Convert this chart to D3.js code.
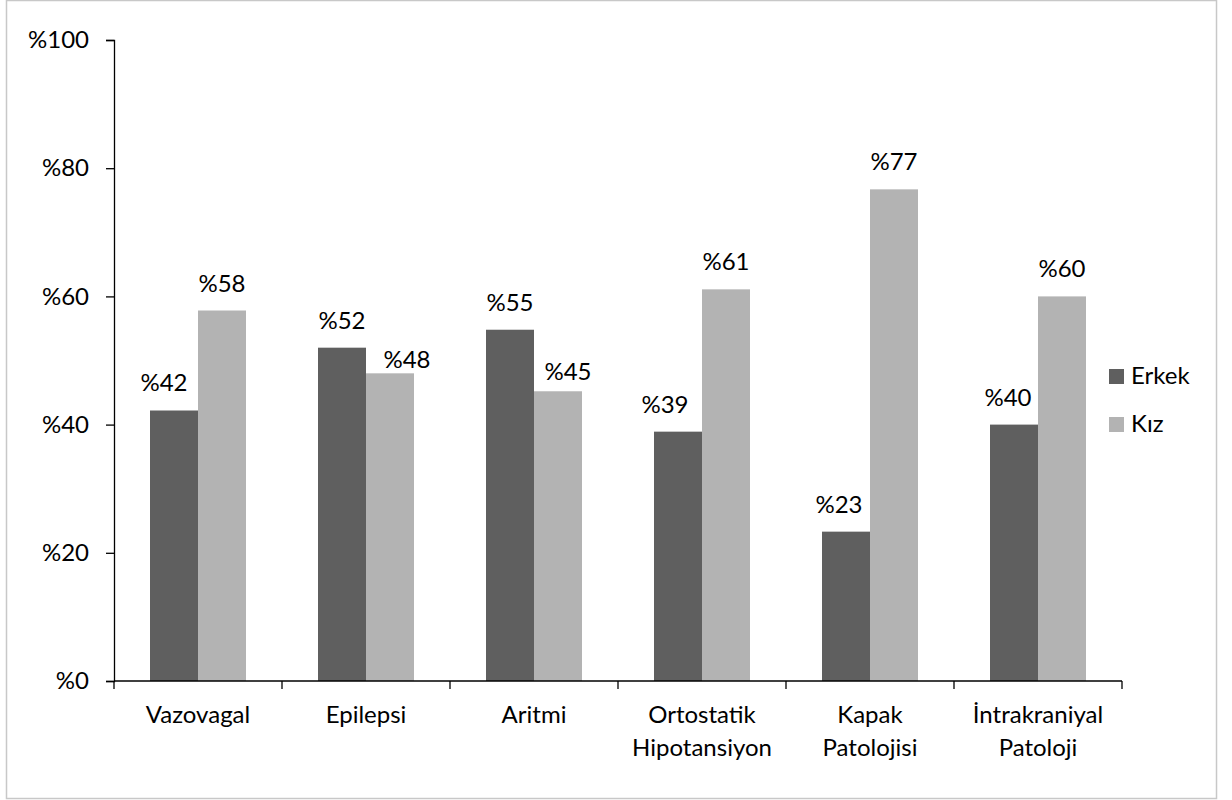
<!DOCTYPE html>
<html>
<head>
<meta charset="utf-8">
<script src="https://cdn.jsdelivr.net/npm/d3@7"></script>
<style>
  body { margin: 0; background: #fff; }
  text { font-family: Lato, "Open Sans", sans-serif; fill: #000; }
</style>
</head>
<body>
<div id="chart"></div>
<script>
// veriler
var categories = [["Vazovagal"], ["Epilepsi"], ["Aritmi"], ["Ortostatik", "Hipotansiyon"], ["Kapak", "Patolojisi"], ["İntrakraniyal", "Patoloji"]];
var seriesNames = ["Erkek", "Kız"];
var erkek = [42.2, 52.0, 54.8, 38.9, 23.3, 40.0];
var kiz = [57.8, 48.0, 45.2, 61.1, 76.7, 60.0];
var yTicks = [0, 20, 40, 60, 80, 100];
var colors = ["#5f5f5f", "#b3b3b3"];

// etiketlerin elle kaydırılmış konumları (dx, dy)
var erkekLabelShift = [[-10, 0], [0, 0], [0, 0], [-13, 0], [-7, 0], [-6, 0]];
var kizLabelShift = [[0, 0], [17, 14], [10, 8], [0, 0], [0, 0], [0, 0]];

var width = 1232, height = 800;
var fontSize = 24;

var svg = d3.select("#chart").append("svg")
  .attr("width", width)
  .attr("height", height);

// çerçeve
svg.append("rect")
  .attr("x", 6.5).attr("y", 0.5)
  .attr("width", 1210).attr("height", 798)
  .attr("fill", "none")
  .attr("stroke", "#c8c8c8")
  .attr("stroke-width", 1.5);

var keys = categories.map(function(c) { return c.join(" "); });

var x0 = d3.scaleBand().domain(keys).range([114, 1122]).padding(0);
var x1 = d3.scaleBand().domain(seriesNames).range([0, x0.bandwidth()]).paddingInner(0).paddingOuter(0.75);
var y = d3.scaleLinear().domain([0, 100]).range([681, 40]);

// y ekseni
var yAxis = svg.append("g")
  .attr("transform", "translate(114,0)")
  .call(d3.axisLeft(y).tickValues(yTicks).tickSize(8).tickPadding(17)
    .tickFormat(function(d) { return "%" + d; }));
yAxis.select(".domain").attr("stroke", "#000").attr("stroke-width", 1.3);
yAxis.selectAll(".tick line").attr("stroke", "#000").attr("stroke-width", 1.3);
yAxis.selectAll(".tick text")
  .attr("font-size", fontSize)
  .attr("font-family", "Lato, sans-serif")
  .attr("fill", "#000");

// çubuklar
var rows = keys.map(function(k, i) {
  return { key: k, values: [erkek[i], kiz[i]], shifts: [erkekLabelShift[i], kizLabelShift[i]] };
});

var groups = svg.selectAll(".grp")
  .data(rows)
  .enter()
  .append("g")
  .attr("class", "grp")
  .attr("transform", function(d) { return "translate(" + x0(d.key) + ",0)"; });

groups.selectAll("rect")
  .data(function(d) { return d.values.map(function(v, j) { return { s: seriesNames[j], v: v, j: j }; }); })
  .enter()
  .append("rect")
  .attr("x", function(d) { return x1(d.s); })
  .attr("y", function(d) { return y(d.v); })
  .attr("width", x1.bandwidth())
  .attr("height", function(d) { return y(0) - y(d.v); })
  .attr("fill", function(d) { return colors[d.j]; });

groups.selectAll(".lbl")
  .data(function(d) { return d.values.map(function(v, j) { return { s: seriesNames[j], v: v, sh: d.shifts[j] }; }); })
  .enter()
  .append("text")
  .attr("class", "lbl")
  .attr("x", function(d) { return x1(d.s) + x1.bandwidth() / 2 + d.sh[0]; })
  .attr("y", function(d) { return y(d.v) - 19 + d.sh[1]; })
  .attr("text-anchor", "middle")
  .attr("font-size", fontSize)
  .text(function(d) { return "%" + Math.round(d.v); });

// x ekseni
var xAxis = svg.append("g");
xAxis.append("line")
  .attr("x1", x0.range()[0]).attr("x2", x0.range()[1])
  .attr("y1", y(0)).attr("y2", y(0))
  .attr("stroke", "#000").attr("stroke-width", 1.3);

var bounds = keys.map(function(k) { return x0(k); }).concat([x0.range()[1]]);
xAxis.selectAll(".xt")
  .data(bounds)
  .enter()
  .append("line")
  .attr("x1", function(d) { return d; }).attr("x2", function(d) { return d; })
  .attr("y1", y(0)).attr("y2", y(0) + 8)
  .attr("stroke", "#000").attr("stroke-width", 1.3);

var catLabels = xAxis.selectAll(".cl")
  .data(categories)
  .enter()
  .append("text")
  .attr("class", "cl")
  .attr("text-anchor", "middle")
  .attr("font-size", fontSize)
  .attr("x", function(d, i) { return x0(keys[i]) + x0.bandwidth() / 2; })
  .attr("y", 723);

catLabels.selectAll("tspan")
  .data(function(d) { return d; })
  .enter()
  .append("tspan")
  .attr("x", function() { return d3.select(this.parentNode).attr("x"); })
  .attr("dy", function(d, i) { return i === 0 ? 0 : 33; })
  .text(function(d) { return d; });

// lejant
var legend = svg.selectAll(".leg")
  .data(seriesNames)
  .enter()
  .append("g")
  .attr("class", "leg")
  .attr("transform", function(d, i) { return "translate(1109," + (369 + i * 48) + ")"; });

legend.append("rect")
  .attr("width", 15).attr("height", 15)
  .attr("fill", function(d, i) { return colors[i]; });

legend.append("text")
  .attr("x", 22).attr("y", 15)
  .attr("font-size", fontSize)
  .text(function(d) { return d; });
</script>
</body>
</html>
